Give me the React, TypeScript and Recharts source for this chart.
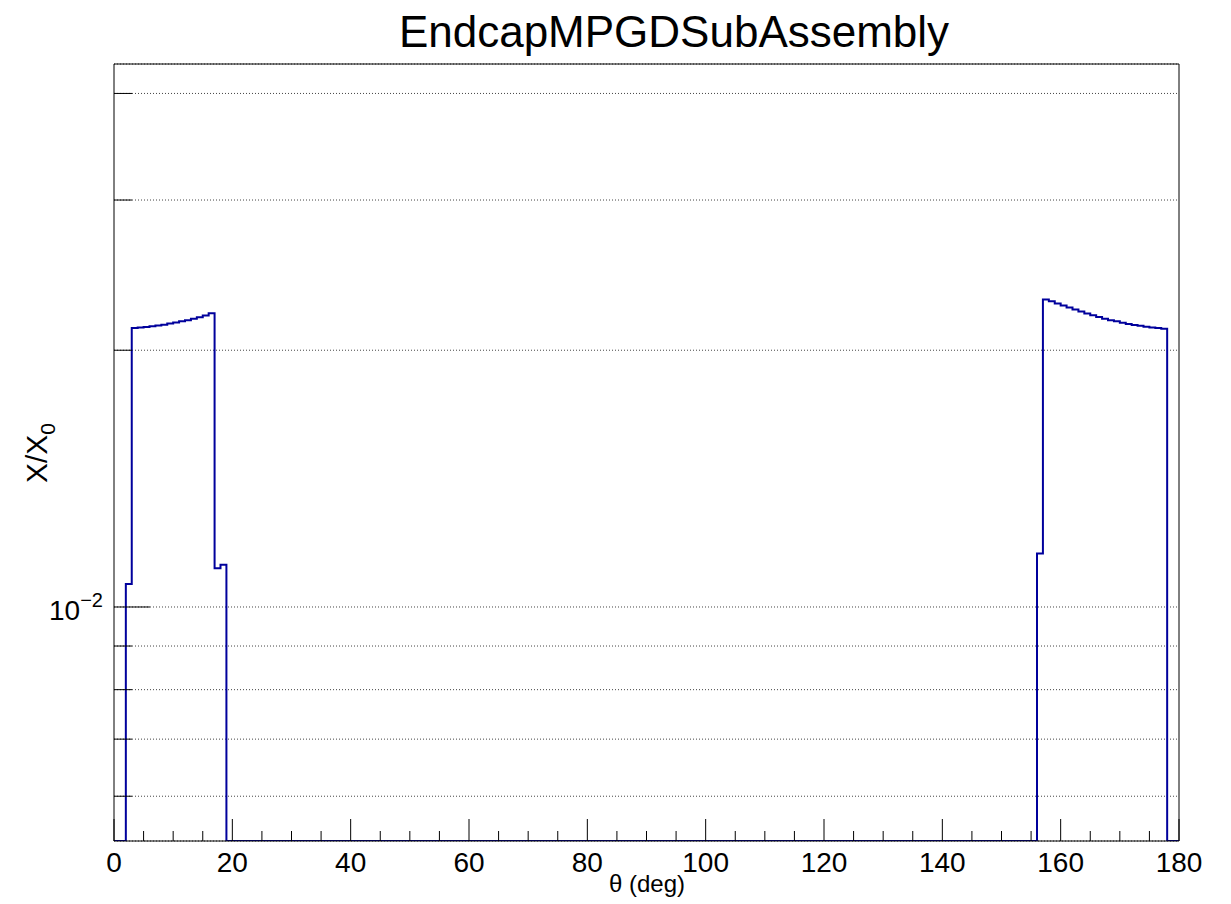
import { LineChart, Line, XAxis, YAxis, CartesianGrid, ReferenceLine } from 'recharts';

// lower bin edge (deg) where the material scan changes value, and X/X0 of that bin
const thetaEdge = [
  0,
  2, 3, 4, 5, 6, 7, 8, 9, 10, 11, 12, 13, 14, 15, 16, 17, 18,
  19,
  156, 157, 158, 159, 160, 161, 162, 163, 164, 165, 166, 167, 168, 169, 170, 171, 172, 173, 174, 175, 176, 177,
  178, 180,
];
const radLength = [
  0,
  0.01064, 0.02124, 0.02127, 0.0213, 0.02134, 0.02138, 0.02143, 0.02149, 0.02155, 0.02162, 0.02169, 0.02178,
  0.02186, 0.02197, 0.0221, 0.0111, 0.01121,
  0,
  0.01155, 0.02293, 0.02283, 0.02269, 0.02257, 0.02245, 0.02233, 0.02221, 0.02209, 0.02198, 0.02188, 0.02178,
  0.02169, 0.02162, 0.02154, 0.02147, 0.02141, 0.02136, 0.02131, 0.02127, 0.02124, 0.0212,
  0, 0,
];

const xTicks = [0, 5, 10, 15, 20, 25, 30, 35, 40, 45, 50, 55, 60, 65, 70, 75, 80, 85, 90, 95, 100, 105, 110, 115, 120, 125, 130, 135, 140, 145, 150, 155, 160, 165, 170, 175, 180];
const yTicks = [0.006, 0.007, 0.008, 0.009, 0.01, 0.02, 0.03, 0.04];

const Y_MIN = 0.005317;
const Y_MAX = 0.04331;
const FONT = '"Liberation Sans", Arial, Helvetica, sans-serif';
const LINE_BLUE = '#00009c';

const data = thetaEdge.map((theta, i) => ({ theta, x0: radLength[i] }));

const XTick = (props: any) => {
  const { x, y, payload } = props;
  const major = payload.value % 20 === 0;
  return (
    <g>
      <line x1={x} x2={x} y1={y} y2={y - (major ? 22 : 10)} stroke="#000" />
      {major && (
        <text x={x} y={y + 31} textAnchor="middle" fontSize={28} fontFamily={FONT} fill="#000">
          {payload.value}
        </text>
      )}
    </g>
  );
};

const YTick = (props: any) => {
  const { x, y, payload } = props;
  const major = payload.value === 0.01;
  return (
    <g>
      <line x1={x} x2={x + (major ? 36 : 18)} y1={y} y2={y} stroke="#000" />
      {major && (
        <text x={x - 11} y={y + 13} textAnchor="end" fontSize={28} fontFamily={FONT} fill="#000">
          10<tspan dy={-13} fontSize={20}>−2</tspan>
        </text>
      )}
    </g>
  );
};

export default function App() {
  return (
    <div style={{ position: 'absolute', left: 0, top: 0, width: 1231, height: 904, background: '#fff' }}>
      <LineChart width={1231} height={904} data={data} margin={{ top: 64, right: 52, left: 0, bottom: 0 }}>
        <CartesianGrid vertical={false} stroke="#444" strokeDasharray="1 2" />
        <XAxis
          dataKey="theta"
          type="number"
          domain={[0, 180]}
          ticks={xTicks}
          interval={0}
          height={63}
          tickSize={0}
          tickMargin={0}
          tickLine={false}
          tick={<XTick />}
          axisLine={{ stroke: '#000' }}
        />
        <YAxis
          scale="log"
          type="number"
          domain={[Y_MIN, Y_MAX]}
          allowDataOverflow
          ticks={yTicks}
          interval={0}
          width={114}
          tickSize={0}
          tickMargin={0}
          tickLine={false}
          tick={<YTick />}
          axisLine={{ stroke: '#000' }}
        />
        <ReferenceLine x={180} stroke="#000" />
        <ReferenceLine y={Y_MAX} stroke="#000" />
        <Line
          type="stepAfter"
          dataKey={(d: any) => Math.max(d.x0, Y_MIN)}
          stroke={LINE_BLUE}
          strokeWidth={2}
          dot={false}
          isAnimationActive={false}
        />
        <text x={674} y={47} textAnchor="middle" fontSize={44} fontFamily={FONT} fill="#000">
          EndcapMPGDSubAssembly
        </text>
        <text x={647} y={892} textAnchor="middle" fontSize={24} fontFamily={FONT} fill="#000">
          θ (deg)
        </text>
        <text
          x={47}
          y={453}
          transform="rotate(-90, 47, 453)"
          textAnchor="middle"
          fontSize={30}
          fontFamily={FONT}
          fill="#000"
        >
          X/X<tspan dy={8} fontSize={21}>0</tspan>
        </text>
      </LineChart>
    </div>
  );
}
